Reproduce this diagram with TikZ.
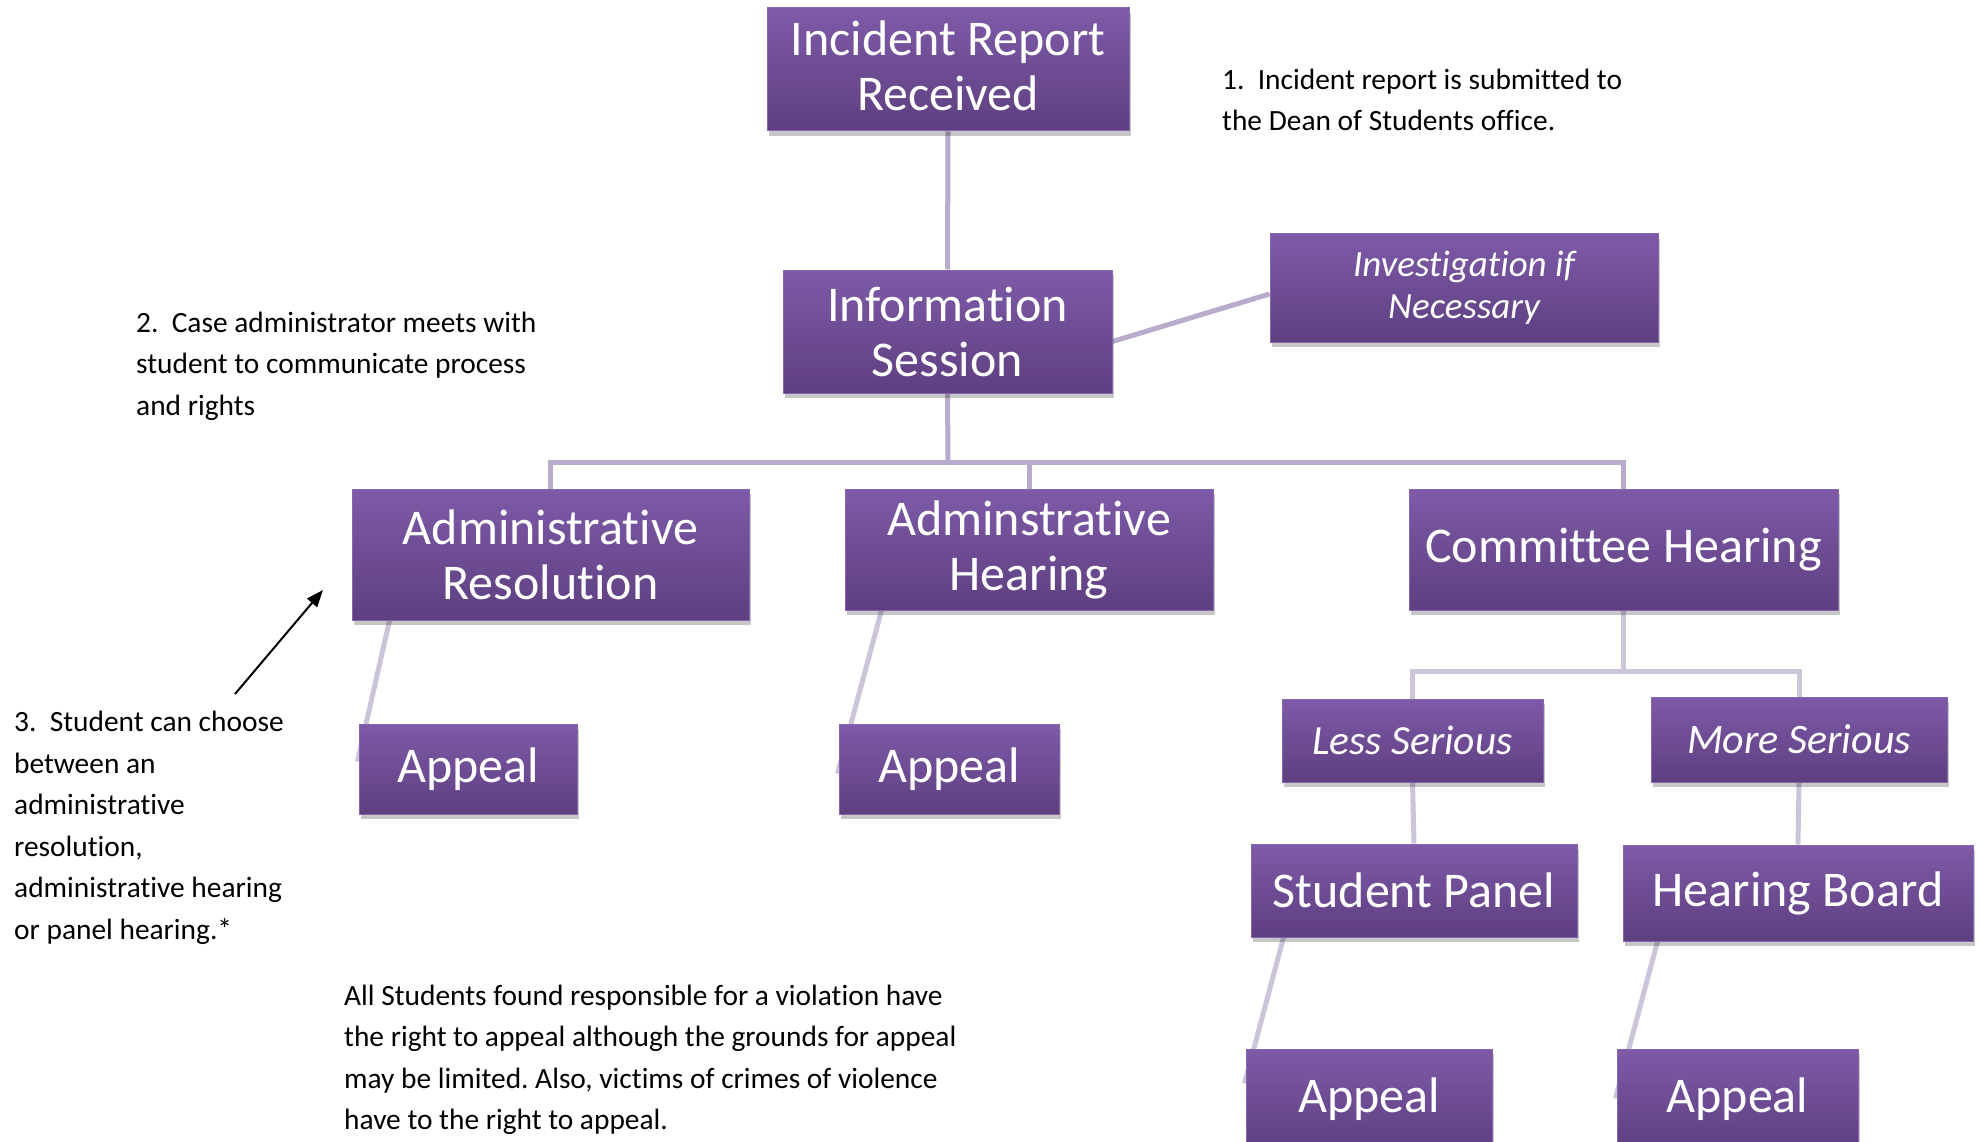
\documentclass[tikz,border=0pt]{standalone}
\usepackage{fontspec}
\setmainfont[Ligatures=NoCommon]{Carlito}
\usetikzlibrary{shadows,backgrounds,arrows.meta,calc}
\definecolor{boxtop}{HTML}{7E5AA8}
\definecolor{boxbot}{HTML}{5E3F80}
\definecolor{boxedge}{HTML}{8766B0}
\definecolor{conn}{HTML}{B8ABCC}
\definecolor{connlight}{HTML}{CCC5DA}
\tikzset{
 pbox/.style={rectangle, inner sep=0pt, top color=boxtop, bottom color=boxbot, draw=boxedge, line width=1pt, text=white, align=center, font=\fontsize{50}{55}\selectfont, drop shadow={shadow xshift=2pt, shadow yshift=-5pt, fill=black, opacity=0.22}},
 ibox/.style={pbox, font=\itshape\fontsize{41.5}{45}\selectfont},
 sz/.style 2 args={minimum width=#1pt, minimum height=#2pt},
 link/.style={draw=conn, line width=5pt},
 link2/.style={draw=connlight, line width=5pt},
 note/.style={anchor=west, inner sep=0pt, align=left, font=\frenchspacing\fontsize{29.4}{41.5}\selectfont},
}
\begin{document}
\begin{tikzpicture}[x=1pt,y=-1pt]
\useasboundingbox (0,0) rectangle (1981,1142);
\begin{scope}[on background layer]
\fill[white] (0,0) rectangle (1981,1142);
\end{scope}

% boxes
\node[pbox, sz={362}{123}] (inc) at (948,69.5) {Incident Report\\Received\vphantom{p}};
\node[pbox, sz={329}{123}] (info) at (947.5,331.5) {Information\\Session};
\node[ibox, sz={388}{108}, font=\itshape\fontsize{37}{42}\selectfont] (inv) at (1464,288) {Investigation if\\Necessary};
\node[pbox, sz={397}{131}] (ar) at (550.5,554.5) {Administrative\\Resolution};
\node[pbox, sz={368}{121}] (ah) at (1029,549.5) {Adminstrative\\Hearing};
\node[pbox, sz={429}{121}] (ch) at (1623.5,549.5) {Committee Hearing};
\node[pbox, sz={218}{90}] (ap1) at (468,769) {Appeal};
\node[pbox, sz={220}{90}] (ap2) at (949,769) {Appeal};
\node[ibox, sz={261}{83}] (ls) at (1412.5,740.5) {Less Serious};
\node[ibox, sz={296}{85}, font=\itshape\fontsize{42}{45}\selectfont] (ms) at (1799,739.5) {More Serious};
\node[pbox, sz={326}{93}] (sp) at (1414,890.5) {Student Panel};
\node[pbox, sz={350}{96}] (hb) at (1798,893) {Hearing Board};
\node[pbox, sz={246}{101}] (ap3) at (1369,1099.5) {Appeal};
\node[pbox, sz={241}{101}] (ap4) at (1737.5,1099.5) {Appeal};

% notes
\node[note] (n1) at (1222,100) {1.\ \ Incident report is submitted to\\the Dean of Students office.};
\node[note] (n2) at (136,366) {2.\ \ Case administrator meets with\\student to communicate process\\and rights};
\node[note] (n3) at (14,828) {3.\ \ Student can choose\\between an\\administrative\\resolution,\\administrative hearing\\or panel hearing.*};
\node[note] (n4) at (344,1060) {All Students found responsible for a violation have\\the right to appeal although the grounds for appeal\\may be limited. Also, victims of crimes of violence\\have to the right to appeal.};

\coordinate (arrS) at (235,694);
\coordinate (arrE) at (323,590);
\draw[line width=2pt, -{Triangle[length=17pt,width=13pt]}] (arrS) -- (arrE);

\coordinate (bus1) at (948,462);
\coordinate (bus2) at (1623.5,671);

\begin{scope}[on background layer]
\draw[link] (inc.south) -- (info.north);
\draw[link] ([yshift=-10pt]info.east) -- ([yshift=-6pt]inv.west);
\draw[link] (info.south) -- (bus1);
\draw[link] (ar.north) |- (bus1) -| (ch.north);
\draw[link] (ah.north) -- (ah.north |- bus1);
\draw[link2] (ch.south) -- (bus2);
\draw[link2] (ls.north) |- (bus2) -| (ms.north);
\draw[link2] (ls.south) -- (sp.north);
\draw[link2] (ms.south) -- (hb.north);
\draw[link2] ([xshift=38pt]ar.south west) -- ([xshift=-1pt,yshift=-38pt]ap1.north west);
\draw[link2] ([xshift=37pt]ah.south west) -- ([xshift=-1pt,yshift=-50pt]ap2.north west);
\draw[link2] ([xshift=33pt]sp.south west) -- ([xshift=-1pt,yshift=-35pt]ap3.north west);
\draw[link2] ([xshift=35pt]hb.south west) -- ([xshift=-1pt,yshift=-50pt]ap4.north west);
\end{scope}
\end{tikzpicture}
\end{document}
